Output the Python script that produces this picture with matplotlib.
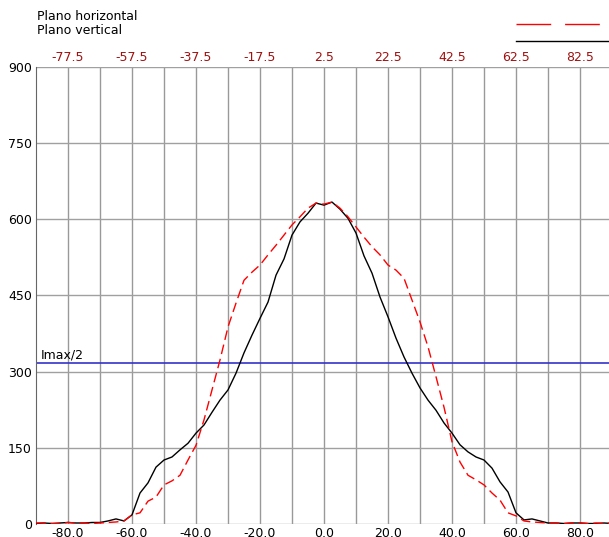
import matplotlib.pyplot as plt
import matplotlib.lines as mlines

# angles (degrees) and intensity of both planes
angles = [-90, -87.5, -85, -82.5, -80, -77.5, -75, -72.5, -70, -67.5, -65, -62.5,
          -60, -57.5, -55, -52.5, -50, -47.5, -45, -42.5, -40, -37.5, -35, -32.5,
          -30, -27.5, -25, -22.5, -20, -17.5, -15, -12.5, -10, -7.5, -5, -2.5,
          0, 2.5, 5, 7.5, 10, 12.5, 15, 17.5, 20, 22.5, 25, 27.5,
          30, 32.5, 35, 37.5, 40, 42.5, 45, 47.5, 50, 52.5, 55, 57.5,
          60, 62.5, 65, 67.5, 70, 72.5, 75, 77.5, 80, 82.5, 85, 87.5, 90]

horizontal = [2, 2, 1, 1, 3, 2, 2, 1, 2, 3, 4, 6,
              18, 22, 45, 53, 77, 85, 96, 126, 155, 205, 264, 323,
              388, 435, 480, 496, 510, 530, 549, 569, 589, 605, 622, 632,
              630, 634, 622, 605, 585, 565, 546, 530, 510, 500, 484, 441,
              398, 349, 290, 230, 162, 122, 96, 87, 77, 61, 47, 22,
              16, 6, 4, 3, 2, 2, 1, 2, 2, 1, 2, 1, 2]

vertical = [1, 2, 1, 2, 3, 2, 2, 3, 3, 6, 10, 6,
            18, 61, 81, 112, 126, 132, 146, 159, 179, 195, 220, 244,
            264, 297, 337, 372, 405, 437, 490, 522, 569, 595, 612, 632,
            628, 634, 620, 602, 573, 528, 494, 447, 408, 366, 329, 297,
            268, 244, 224, 199, 179, 156, 142, 132, 126, 110, 83, 63,
            22, 8, 10, 6, 2, 2, 1, 2, 2, 1, 1, 2, 1]

imax_half = 317

bottom_ticks = [-80, -60, -40, -20, 0, 20, 40, 60, 80]
top_labels = ['-77.5', '-57.5', '-37.5', '-17.5', '2.5', '22.5', '42.5', '62.5', '82.5']
y_ticks = [0, 150, 300, 450, 600, 750, 900]

W, H = 609, 537
fig = plt.figure(figsize=(W / 100, H / 100), dpi=100)
fig.patch.set_facecolor('white')
ax = fig.add_axes([36 / W, 13 / H, 576 / W, 457 / H])
ax.set_xlim(-90, 90)
ax.set_ylim(0, 900)

# grid
for gx in range(-80, 90, 10):
    ax.axvline(gx, color='#999999', lw=1, zorder=1)
for gy in y_ticks:
    ax.axhline(gy, color='#a0a0a0', lw=1, zorder=1)

ax.axhline(imax_half, color='#3333cc', lw=1.2, zorder=2)
ax.text(-88.5, imax_half + 4, 'Imax/2', fontsize=9, color='black',
        ha='left', va='bottom')

ax.plot(angles, vertical, color='black', lw=1, zorder=3)
ax.plot(angles, horizontal, color='red', lw=1, dashes=(7, 3.5), zorder=4)

for s in ['top', 'right', 'bottom']:
    ax.spines[s].set_visible(False)
ax.spines['left'].set_color('#666666')

ax.set_xticks(bottom_ticks)
ax.set_xticklabels(['%.1f' % v for v in bottom_ticks])
ax.set_yticks(y_ticks)
ax.tick_params(axis='both', length=0, labelsize=9, colors='black')
ax.tick_params(axis='x', pad=2)
ax.tick_params(axis='y', pad=3)

top = ax.twiny()
top.set_xlim(ax.get_xlim())
top.set_xticks(bottom_ticks)
top.set_xticklabels(top_labels, color='#a01010')
top.tick_params(axis='x', length=0, labelsize=9, pad=2)
for s in top.spines.values():
    s.set_visible(False)

# legend
fig.text(37 / W, 1 - 17 / H, 'Plano horizontal', fontsize=9, ha='left', va='center')
fig.text(37 / W, 1 - 31 / H, 'Plano vertical', fontsize=9, ha='left', va='center')
fig.add_artist(mlines.Line2D([516 / W, 1.0], [1 - 24 / H, 1 - 24 / H],
                             color='red', lw=1, dashes=(25, 10)))
fig.add_artist(mlines.Line2D([516 / W, 1.0], [1 - 41 / H, 1 - 41 / H],
                             color='black', lw=1))

plt.savefig('out.png', dpi=100)
